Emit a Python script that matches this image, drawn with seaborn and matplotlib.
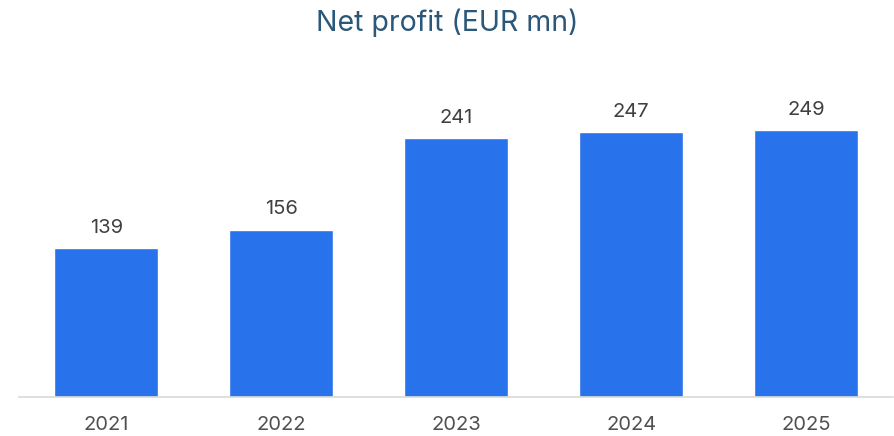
import matplotlib
matplotlib.use("Agg")
import matplotlib.pyplot as plt
import seaborn as sns
import pandas as pd

years = ["2021", "2022", "2023", "2024", "2025"]
net_profit = [139, 156, 241, 247, 249]

sns.set_style("white")
plt.rcParams["font.family"] = ["Inter", "DejaVu Sans"]

df = pd.DataFrame({"Year": years, "Profit": net_profit})

fig = plt.figure(figsize=(8.95, 4.36), dpi=100)
ax = fig.add_axes([0.0212, 0.0894, 0.977, 0.773])

sns.barplot(data=df, x="Year", y="Profit", color="#2872eb", width=0.595,
            saturation=1, ax=ax)

# etiquetas de valor encima de cada barra
for i, v in enumerate(net_profit):
    ax.annotate(f"{v}", (i, v), xytext=(0, 8), textcoords="offset points",
                ha="center", va="bottom", fontsize=14.5, color="#404040")

ax.set_xlim(-0.5, 4.5)
ax.set_ylim(0, 314)
ax.set_xlabel("")
ax.set_ylabel("")
ax.set_yticks([])
for s in ["top", "right", "left"]:
    ax.spines[s].set_visible(False)
ax.spines["bottom"].set_color("#d9d9d9")
ax.spines["bottom"].set_linewidth(1.2)
ax.tick_params(axis="x", length=0, labelsize=14.5, labelcolor="#505050", pad=14)

fig.suptitle("Net profit (EUR mn)", fontsize=20.5, color="#2b5778", y=0.98, va="top")

fig.savefig("out.png", dpi=100)
